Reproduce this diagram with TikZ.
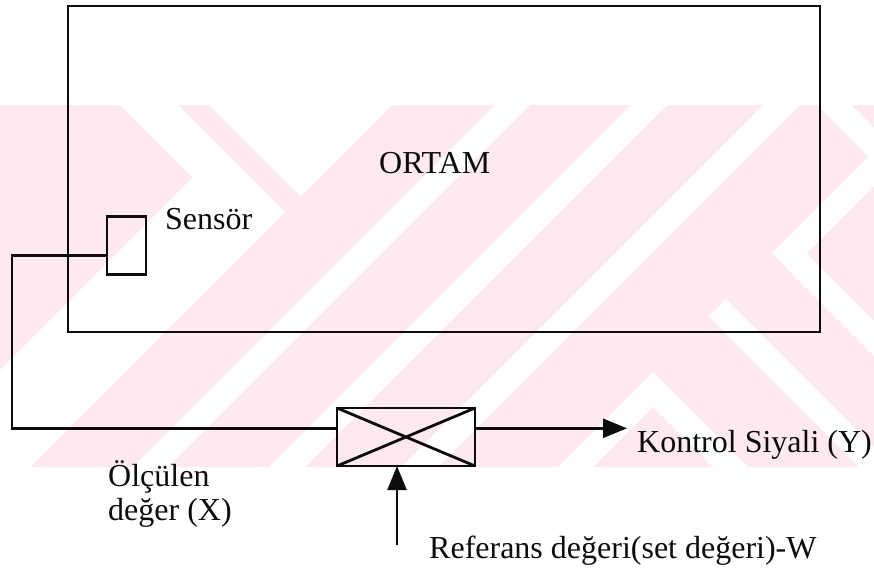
\documentclass[tikz,border=0pt]{standalone}
\usepackage{fontspec}
\setmainfont{Liberation Serif}
\usetikzlibrary{arrows.meta,calc}
\definecolor{wmpink}{RGB}{253,233,238}
\definecolor{ink}{RGB}{12,12,12}
\tikzset{
  wire/.style={draw=ink, line width=2.4pt},
  boxshape/.style={draw=ink, line width=2.4pt, rectangle, inner sep=0pt, outer sep=0pt},
  lbl/.style={font=\fontsize{32}{34}\selectfont, text=ink, inner sep=0pt, anchor=base west},
  arr/.style={wire, -{Triangle[length=24pt,width=19pt]}},
}
\begin{document}
\begin{tikzpicture}[x=1pt,y=-1pt]
\useasboundingbox (0,0) rectangle (874,572);

% pale watermark band behind the diagram
\begin{scope}
  \clip (0,105) rectangle (874,467);
  \fill[wmpink] (0,105) rectangle (874,467);
  % left chevron and notch
  \fill[white] (120,105) -- (178,105) -- (285,212) -- (30,467) -- (0,467) -- (0,370) -- (192.5,177.5) -- cycle;
  \fill[white] (209,105) -- (392,105) -- (300.5,196.5) -- cycle;
  % rising gaps
  \fill[white] (495,105) -- (530,105) -- (168,467) -- (133,467) -- cycle;
  \fill[white] (631,105) -- (667,105) -- (305,467) -- (269,467) -- cycle;
  \fill[white] (763,105) -- (800,105) -- (438,467) -- (401,467) -- cycle;
  \fill[white] (920,105) -- (955,105) -- (593,467) -- (558,467) -- cycle;
  % falling gaps on the right
  \fill[white] (771.5,253.5) -- (789,236) -- (1153,600) -- (1118,600) -- cycle;
  \fill[white] (708.5,316.5) -- (726,299) -- (1027,600) -- (992,600) -- cycle;
  \fill[white] (635.5,389.5) -- (653,372) -- (881,600) -- (846,600) -- cycle;
  \fill[white] (817,105) -- (851,105) -- (1346,600) -- (1312,600) -- cycle;
  % strokes crossing the last rising gap
  \fill[wmpink] (653,372) -- (708.5,316.5) -- (726,334) -- (670.5,389.5) -- cycle;
  \fill[wmpink] (726,299) -- (771.5,253.5) -- (789,271) -- (743.5,316.5) -- cycle;
\end{scope}

% environment
\node[boxshape, minimum width=752pt, minimum height=326pt] (ortam) at (444,169) {};
\node[lbl] (ortamtxt) at (379,173) {ORTAM};

% sensor
\node[boxshape, minimum width=39pt, minimum height=58pt] (sensor) at (126.5,245.5) {};
\node[lbl] (sensortxt) at (165,229) {Sensör};

% controller
\node[boxshape, line width=2.8pt, minimum width=138pt, minimum height=58pt] (ctrl) at (406,437) {};
\draw[ink, line width=2.8pt] (ctrl.north west) -- (ctrl.south east);
\draw[ink, line width=2.8pt] (ctrl.south west) -- (ctrl.north east);

% feedback line from the sensor to the controller
\coordinate (sout) at ($(sensor.north west)!0.67!(sensor.south west)$);
\coordinate (cin) at ($(ctrl.north west)!0.35!(ctrl.south west)$);
\coordinate (cout) at ($(ctrl.north east)!0.35!(ctrl.south east)$);
\coordinate (corner) at (12,0);
\draw[wire] (sout) -- (sout -| corner) |- (cin);

% output signal
\coordinate (yend) at (627,0);
\draw[arr] (cout) -- (cout -| yend);
\node[lbl] (ytxt) at (637,452) {Kontrol Siyali (Y)};

% reference input
\coordinate (wsrc) at (397,545);
\draw[arr] (wsrc) -- (wsrc |- ctrl.south);
\node[lbl] (wtxt) at (429,558) {Referans değeri(set değeri)-W};

% measured value
\node[lbl] (xtxt1) at (108,486) {Ölçülen};
\node[lbl] (xtxt2) at (108,520) {değer (X)};
\end{tikzpicture}
\end{document}
